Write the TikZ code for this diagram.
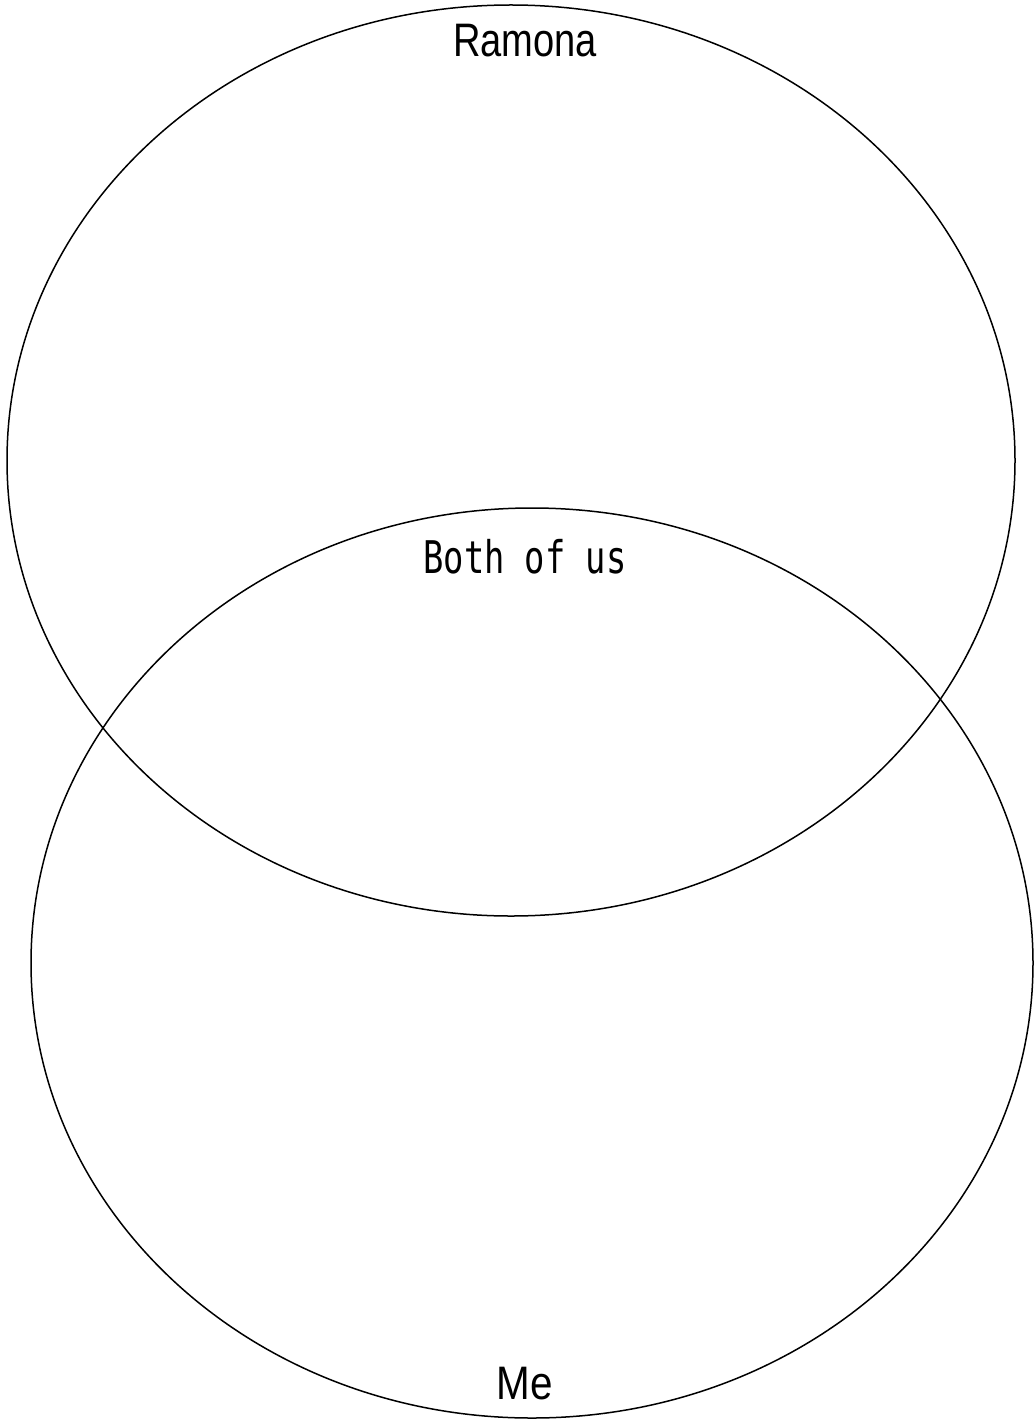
\documentclass[tikz,border=0pt]{standalone}
\usepackage{fontspec}
\setmainfont{Liberation Sans}
\newfontfamily\monofont{DejaVu Sans Mono}
\usetikzlibrary{shapes.geometric}

\begin{document}
\begin{tikzpicture}[x=1pt,y=-1pt]
\tikzstyle{set}=[draw,ellipse,line width=1.5pt,inner sep=0pt]
\tikzstyle{lbl}=[anchor=base,inner sep=0pt,font=\fontsize{47}{56}\selectfont]
\useasboundingbox (0,0) rectangle (1033,1420);
\node[set,minimum width=1008pt,minimum height=911pt] (ramona) at (511,460.5) {};
\node[set,minimum width=1002pt,minimum height=910pt] (me) at (532,963) {};
\node[lbl,xscale=0.81] (ramonalbl) at (525,57) {Ramona};
\node[lbl,xscale=0.75,font=\fontsize{45}{54}\monofont] (bothlbl) at (525,573) {Both of us};
\node[lbl,xscale=0.86] (melbl) at (525,1399) {Me};
\end{tikzpicture}
\end{document}
